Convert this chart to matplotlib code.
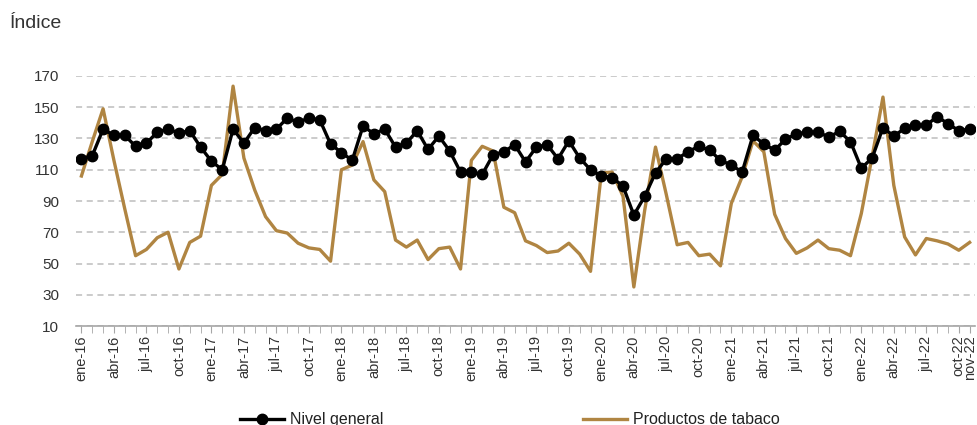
import matplotlib.pyplot as plt

plt.rc('font', family=['Liberation Sans', 'DejaVu Sans'])

# Meses ene-16 .. nov-22
meses = ['ene', 'feb', 'mar', 'abr', 'may', 'jun', 'jul', 'ago', 'sep', 'oct', 'nov', 'dic']
fechas = [f'{m}-{a}' for a in range(16, 23) for m in meses][:83]

nivel_general = [117, 119, 136, 132, 132, 125, 127, 134, 136, 133.5, 135, 124.5,
                 115.5, 110, 136, 127, 137, 135, 136, 143, 140.5, 143, 142, 126.5,
                 121, 116, 138, 133, 136, 124.5, 127, 135, 123, 131.5, 122, 108.5,
                 108.5, 107, 119.5, 121.5, 126, 115, 124.5, 126, 117, 128.5, 117.5, 110,
                 106, 105, 99.5, 81, 93, 108, 117, 117, 121.5, 125, 122.5, 116,
                 113, 108.5, 132, 126.5, 122.5, 129.5, 133, 134, 134, 131, 134.5, 128,
                 111, 117.5, 137, 131.5, 136.5, 138.5, 138.5, 144, 139.5, 135, 136]

tabaco = [106, 128, 149, 116, 85, 55, 59, 66.5, 70, 46.5, 63.5, 67.5,
          100, 107, 163.5, 117.5, 97, 80, 71, 69.5, 63, 60, 59, 51.5,
          110, 113, 128, 103.5, 96, 65, 60.5, 65, 52.5, 59.5, 60.5, 46.5,
          116, 125, 122, 86, 82.5, 64.5, 61.5, 57, 58, 63, 56, 45,
          108, 108.5, 93, 35, 84, 124.5, 94, 62, 63.5, 55, 56, 48.5,
          88.5, 105.5, 128.5, 121.5, 81.5, 66, 56.5, 60, 65, 59.5, 58.5, 55,
          82, 118.5, 156.5, 100, 67, 55.5, 66, 64.5, 62.5, 58.5, 63.5]

x = list(range(len(fechas)))
etiquetas_idx = list(range(0, 83, 3)) + [82]

fig = plt.figure(figsize=(9.77, 4.25), dpi=100)
ax = fig.add_axes([0.0778, 0.2329, 0.9202, 0.5883])

ax.plot(x, nivel_general, color='black', linewidth=2.4, marker='o', markersize=7.5,
        label='Nivel general', zorder=3)
ax.plot(x, tabaco, color='#B08542', linewidth=2.4, label='Productos de tabaco', zorder=2)

ax.set_ylim(10, 170)
ax.set_yticks(range(10, 171, 20))
ax.set_xlim(-0.5, 82.5)
ax.set_xticks(etiquetas_idx)
ax.set_xticklabels([fechas[i] for i in etiquetas_idx], rotation=90)
ax.set_xticks(x, minor=True)

ax.grid(axis='y', linestyle=(0, (4, 3)), color='#BDBDBD', linewidth=1.1)
ax.set_axisbelow(True)
for s in ['top', 'right', 'left']:
    ax.spines[s].set_visible(False)
ax.spines['bottom'].set_color('#A6A6A6')
ax.spines['bottom'].set_linewidth(1.2)

ax.tick_params(axis='x', which='both', direction='out', length=5, color='#A6A6A6',
               labelsize=10.5, labelcolor='#333333', pad=2)
ax.tick_params(axis='y', length=0, labelsize=11, labelcolor='#333333', pad=12)

fig.text(0.01, 0.945, 'Índice', fontsize=14, color='#333333', va='center')

fig.legend(loc='center', bbox_to_anchor=(0.522, 0.012), ncol=2, frameon=False,
           fontsize=11.5, handlelength=2.75, columnspacing=12.5, handletextpad=0.4,
           labelcolor='#222222')

fig.savefig('out.png', dpi=100)
